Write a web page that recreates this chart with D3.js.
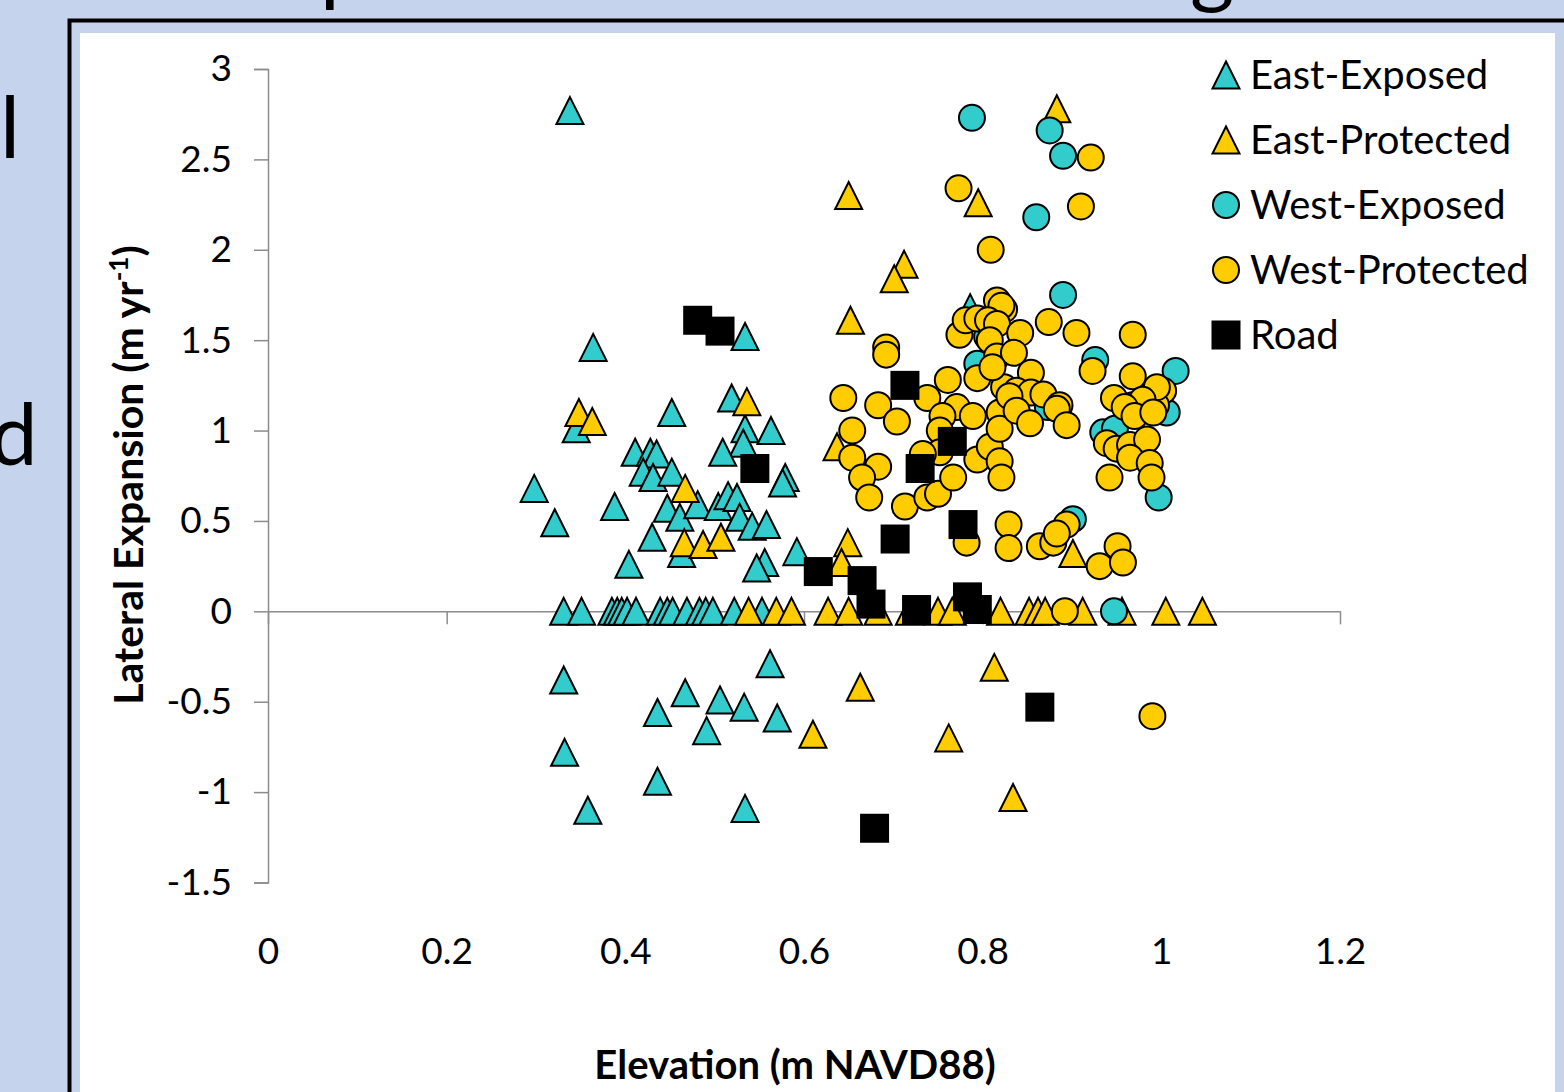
<!DOCTYPE html>
<html>
<head>
<meta charset="utf-8">
<script src="https://cdn.jsdelivr.net/npm/d3@7"></script>
<style>
  body { margin: 0; background: #c5d4ec; }
  svg { display: block; }
  text { font-family: Lato, "Open Sans", sans-serif; fill: #000; }
</style>
</head>
<body>
<svg width="1564" height="1092"></svg>
<script>
// series values, [elevation, lateral expansion]
const eastExposed = [
  [0.338, 2.77], [0.364, 1.46], [0.345, 1.01], [0.298, 0.68], [0.321, 0.49],
  [0.388, 0.58], [0.404, 0.26], [0.411, 0.88], [0.428, 0.88], [0.435, 0.87],
  [0.420, 0.77], [0.431, 0.74], [0.452, 1.10], [0.452, 0.77], [0.447, 0.57],
  [0.461, 0.52], [0.430, 0.41], [0.463, 0.32], [0.481, 0.59], [0.504, 0.58],
  [0.515, 0.64], [0.525, 0.63], [0.528, 0.52], [0.542, 0.47], [0.558, 0.48],
  [0.519, 1.18], [0.534, 1.01], [0.532, 0.93], [0.563, 1.00], [0.509, 0.88],
  [0.579, 0.74], [0.576, 0.71], [0.592, 0.33], [0.556, 0.27], [0.547, 0.24],
  [0.534, 1.52], [0.786, 1.68],
  [0.331, 0], [0.351, 0], [0.385, 0], [0.391, 0], [0.396, 0], [0.402, 0],
  [0.412, 0], [0.439, 0], [0.447, 0], [0.453, 0], [0.469, 0], [0.483, 0],
  [0.490, 0], [0.498, 0], [0.522, 0], [0.553, 0],
  [0.331, -0.38], [0.332, -0.78], [0.358, -1.10], [0.436, -0.56], [0.467, -0.45],
  [0.491, -0.66], [0.506, -0.49], [0.533, -0.53], [0.562, -0.29], [0.570, -0.59],
  [0.436, -0.94], [0.534, -1.09]
];

const eastProtected = [
  [0.883, 2.78], [0.650, 2.30], [0.795, 2.26], [0.712, 1.92], [0.701, 1.84],
  [0.652, 1.61], [0.348, 1.10], [0.363, 1.05], [0.536, 1.16], [0.467, 0.68],
  [0.466, 0.38], [0.487, 0.37], [0.507, 0.41], [0.649, 0.38], [0.642, 0.27],
  [0.637, 0.91], [0.901, 0.32],
  [0.538, 0], [0.569, 0], [0.586, 0], [0.627, 0], [0.650, 0], [0.683, 0],
  [0.718, 0], [0.750, 0], [0.766, 0], [0.820, 0], [0.852, 0], [0.862, 0],
  [0.870, 0], [0.912, 0], [0.956, 0], [1.005, 0], [1.046, 0],
  [0.610, -0.68], [0.663, -0.42], [0.762, -0.70], [0.813, -0.31], [0.834, -1.03]
];

const westExposed = [
  [0.788, 2.73], [0.875, 2.66], [0.890, 2.52], [0.860, 2.18], [0.890, 1.75],
  [1.016, 1.33], [0.926, 1.39], [1.006, 1.10], [0.997, 0.63], [0.935, 0.99],
  [0.948, 1.01], [0.947, 0], [0.901, 0.51], [0.805, 1.52], [0.794, 1.37],
  [0.873, 1.13]
];

const westProtected = [
  [0.921, 2.51], [0.773, 2.34], [0.910, 2.24], [0.809, 2.00], [0.692, 1.46],
  [0.692, 1.42], [0.816, 1.72], [0.824, 1.67], [0.821, 1.69], [0.774, 1.53],
  [0.781, 1.61], [0.794, 1.62], [0.806, 1.61], [0.816, 1.59], [0.842, 1.54],
  [0.874, 1.60], [0.905, 1.54], [0.968, 1.53], [0.923, 1.33], [0.968, 1.30],
  [1.002, 1.22], [0.644, 1.18], [0.683, 1.14], [0.738, 1.18], [0.761, 1.28],
  [0.794, 1.29], [0.808, 1.50], [0.816, 1.41], [0.835, 1.43], [0.854, 1.32],
  [0.947, 1.18], [0.968, 1.14], [0.994, 1.14], [0.824, 1.24], [0.838, 1.22],
  [0.854, 1.21], [0.868, 1.20], [0.886, 1.14], [0.704, 1.05], [0.654, 1.00],
  [0.654, 0.85], [0.683, 0.80], [0.665, 0.74], [0.673, 0.63], [0.713, 0.58],
  [0.771, 1.13], [0.789, 1.08], [0.755, 1.08], [0.752, 1.00], [0.752, 0.88],
  [0.738, 0.63], [0.750, 0.65], [0.767, 0.74], [0.794, 0.84], [0.808, 0.91],
  [0.819, 0.83], [0.821, 0.74], [0.819, 1.10], [0.819, 1.01], [0.811, 1.35],
  [0.830, 1.19], [0.838, 1.11], [0.853, 1.04], [0.883, 1.12], [0.894, 1.03],
  [0.995, 1.24], [0.979, 1.17], [0.959, 1.13], [0.970, 1.08], [0.991, 1.10],
  [0.939, 0.93], [0.950, 0.90], [0.965, 0.92], [0.984, 0.95], [0.965, 0.85],
  [0.987, 0.82], [0.989, 0.74], [0.942, 0.74], [0.829, 0.48], [0.829, 0.35],
  [0.864, 0.36], [0.879, 0.38], [0.894, 0.48], [0.883, 0.43], [0.931, 0.25],
  [0.951, 0.36], [0.957, 0.27], [0.782, 0.38], [0.733, 0.87], [0.892, 0],
  [0.990, -0.58]
];

const road = [
  [0.481, 1.61], [0.506, 1.55], [0.545, 0.79], [0.616, 0.22], [0.665, 0.17],
  [0.675, 0.04], [0.702, 0.40], [0.713, 1.25], [0.730, 0.79], [0.766, 0.94],
  [0.778, 0.48], [0.726, 0.01], [0.783, 0.08], [0.794, 0.01], [0.864, -0.53],
  [0.679, -1.20]
];

const seriesNames = ["East-Exposed", "East-Protected", "West-Exposed", "West-Protected", "Road"];
const xTicks = [0, 0.2, 0.4, 0.6, 0.8, 1, 1.2];
const yTicks = [-1.5, -1, -0.5, 0, 0.5, 1, 1.5, 2, 2.5, 3];

const teal = "#33cccc", gold = "#ffcc00";

const series = [
  { name: seriesNames[0], data: eastExposed, shape: "tri", fill: teal },
  { name: seriesNames[1], data: eastProtected, shape: "tri", fill: gold },
  { name: seriesNames[2], data: westExposed, shape: "circle", fill: teal },
  { name: seriesNames[3], data: westProtected, shape: "circle", fill: gold },
  { name: seriesNames[4], data: road, shape: "square", fill: "#000" }
];

const svg = d3.select("svg");

// slide background bits (the slide's own text runs off the crop)
svg.append("rect").attr("x", 0).attr("y", 0).attr("width", 1564).attr("height", 1092).attr("fill", "#c5d4ec");
svg.append("text").attr("x", 0).attr("y", 158).attr("font-family", "Liberation Sans").style("font-size", "85px").text("l");
svg.append("text").attr("x", -10).attr("y", 465).attr("font-family", "Liberation Sans").style("font-size", "85px").text("d");
svg.append("text").attr("x", 320).attr("y", -5).attr("font-family", "Liberation Sans").style("font-size", "85px").text("p");
svg.append("text").attr("x", 1190).attr("y", -3).attr("font-family", "Liberation Sans").style("font-size", "85px").text("g");

// frame
svg.append("path")
  .attr("d", "M69.5,1100 V20.5 H1570")
  .attr("fill", "none")
  .attr("stroke", "#000")
  .attr("stroke-width", 4);
svg.append("rect").attr("x", 80).attr("y", 33).attr("width", 1475).attr("height", 1070).attr("fill", "#fff");

const x = d3.scaleLinear().domain([0, 1.2]).range([268, 1340]);
const y = d3.scaleLinear().domain([-1.5, 3]).range([882.5, 69]);

// y axis
const yAxis = svg.append("g")
  .attr("transform", "translate(268,0)")
  .call(d3.axisLeft(y).tickValues(yTicks).tickSizeInner(14).tickSizeOuter(14).tickPadding(22).tickFormat(d => String(d)));
yAxis.selectAll("path, line").attr("stroke", "#8c8c8c").attr("stroke-width", 1.5);
yAxis.selectAll("text").style("font-size", "37px").attr("fill", "#000");

// x axis at y = 0, labels pushed down to the bottom
const xAxis = svg.append("g")
  .attr("transform", `translate(0,${y(0)})`)
  .call(d3.axisBottom(x).tickValues(xTicks).tickSizeInner(13).tickSizeOuter(0).tickFormat(d => String(d)));
xAxis.selectAll("path, line").attr("stroke", "#8c8c8c").attr("stroke-width", 1.5);
xAxis.selectAll("text").attr("y", 326).attr("dy", "0.71em").style("font-size", "37px").attr("fill", "#000");

// axis titles
svg.append("text")
  .attr("x", 795).attr("y", 1079)
  .attr("text-anchor", "middle")
  .style("font-size", "40px").style("font-weight", "bold")
  .text("Elevation (m NAVD88)");

const yTitle = svg.append("text")
  .attr("transform", "translate(143,475) rotate(-90)")
  .attr("text-anchor", "middle")
  .style("font-size", "41px").style("font-weight", "bold");
yTitle.append("tspan").text("Lateral Expansion (m yr");
yTitle.append("tspan").attr("dy", -15).style("font-size", "26px").text("-1");
yTitle.append("tspan").attr("dy", 15).text(")");

// markers
const tri = "M0,-13.5L13.5,13.5L-13.5,13.5Z";
function drawMarker(sel, s) {
  if (s.shape === "tri") {
    sel.append("path").attr("d", tri);
  } else if (s.shape === "circle") {
    sel.append("circle").attr("r", 13);
  } else {
    sel.append("rect").attr("x", -13.5).attr("y", -13.5).attr("width", 27).attr("height", 27);
  }
  sel.selectAll("path, circle, rect")
    .attr("fill", s.fill)
    .attr("stroke", "#000")
    .attr("stroke-width", 2);
}

series.forEach(s => {
  svg.append("g")
    .selectAll("g")
    .data(s.data)
    .enter()
    .append("g")
    .attr("transform", d => `translate(${x(d[0])},${y(d[1])})`)
    .each(function () { drawMarker(d3.select(this), s); });
});

// legend
const legend = svg.append("g").attr("transform", "translate(1226,75)");
series.forEach((s, i) => {
  const row = legend.append("g").attr("transform", `translate(0,${i * 65})`);
  drawMarker(row, s);
  row.append("text")
    .attr("x", 24).attr("dy", "0.36em")
    .style("font-size", "40px")
    .text(s.name);
});
</script>
</body>
</html>
